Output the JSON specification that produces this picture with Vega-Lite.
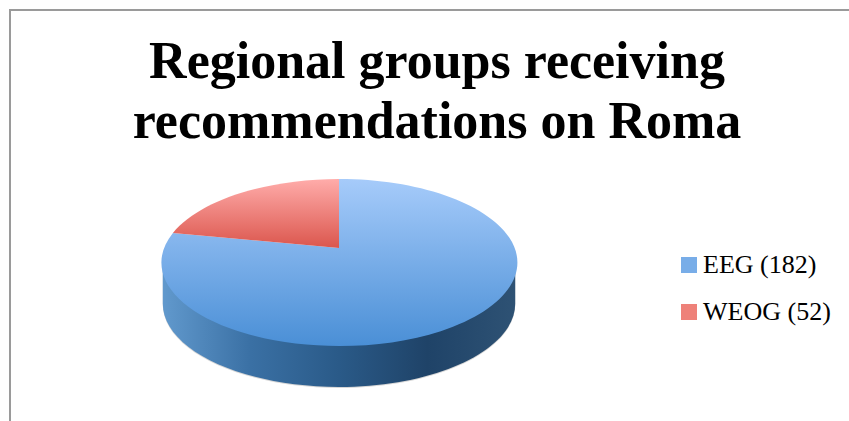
{
  "$schema": "https://vega.github.io/schema/vega-lite/v6.json",
  "width": 860,
  "height": 430,
  "autosize": "none",
  "padding": {"left": 10, "top": 10, "right": -21, "bottom": -19},
  "background": "white",
  "view": {"stroke": "#9a9a9a", "strokeWidth": 2, "fill": "white"},
  "title": {
    "text": ["Regional groups receiving", "recommendations on Roma"],
    "font": "Liberation Serif",
    "fontWeight": "bold",
    "fontSize": 52,
    "lineHeight": 60,
    "color": "#000000",
    "anchor": "middle",
    "frame": "group",
    "orient": "top",
    "baseline": "top",
    "dx": -3,
    "dy": 139,
    "offset": 0
  },
  "data": {"values": [
    {"group": "EEG (182)", "value": 182},
    {"group": "WEOG (52)", "value": 52}
  ]},
  "layer": [
    {
      "transform": [{"filter": "datum.value > 100"}],
      "mark": {"type": "point", "filled": true, "opacity": 0.35, "xOffset": -101, "yOffset": 38.5, "stroke": null},
      "encoding": {
        "shape": {"value": "M-0.99,0 L-0.99,0.23 A0.99,0.469 0 0 0 0.99,0.23 L0.99,0 Z"},
        "size": {"value": 126736},
        "fill": {"value": "#8a8a8a"}
      }
    },
    {
      "transform": [{"filter": "datum.value > 100"}],
      "mark": {"type": "point", "filled": true, "opacity": 1, "xOffset": -101, "yOffset": 37.5, "stroke": null},
      "encoding": {
        "shape": {"value": "M-0.99,0 L-0.99,0.23 A0.99,0.469 0 0 0 0.99,0.23 L0.99,0 Z"},
        "size": {"value": 126736},
        "fill": {"value": {"gradient": "linear", "x1": 0, "y1": 0, "x2": 1, "y2": 0, "stops": [
          {"offset": 0, "color": "#6199cd"},
          {"offset": 0.25, "color": "#3a70a4"},
          {"offset": 0.5, "color": "#2a5a88"},
          {"offset": 0.75, "color": "#1f4368"},
          {"offset": 1, "color": "#2e5274"}
        ]}}
      }
    },
    {
      "mark": {"type": "point", "filled": true, "opacity": 1, "xOffset": -101, "yOffset": 37.5, "stroke": null, "shape": "square"},
      "encoding": {
        "size": {"value": 100},
        "fill": {
          "field": "group", "type": "nominal",
          "scale": {"domain": ["EEG (182)", "WEOG (52)"], "range": ["#78ade8", "#ee8179"]},
          "legend": {
            "title": null,
            "orient": "none",
            "legendX": 666,
            "legendY": 242,
            "symbolType": "square",
            "symbolSize": 256,
            "symbolStrokeWidth": 0,
            "labelFont": "Liberation Serif",
            "labelFontSize": 26,
            "labelColor": "#000000",
            "labelLimit": 200,
            "labelOffset": 1,
            "rowPadding": 21,
            "encoding": {
              "symbols": {"update": {"fill": [
                {"test": "datum.value == 'EEG (182)'", "value": {"gradient": "linear", "x1": 0, "y1": 0, "x2": 0, "y2": 1, "stops": [{"offset": 0, "color": "#a6cbfa"}, {"offset": 1, "color": "#4a8fd6"}]}},
                {"value": {"gradient": "linear", "x1": 0, "y1": 0, "x2": 0, "y2": 1, "stops": [{"offset": 0, "color": "#ffacaa"}, {"offset": 1, "color": "#db564d"}]}}
              ]}}
            }
          }
        }
      }
    },
    {
      "transform": [{"filter": "datum.value > 100"}],
      "mark": {"type": "point", "filled": true, "opacity": 1, "xOffset": -101, "yOffset": 37.5, "stroke": null},
      "encoding": {
        "shape": {"value": "M0,-0.081 L0,-0.469 A1,0.469 0 1 1 -0.933,-0.166 Z"},
        "size": {"value": 126736},
        "fill": {"value": {"gradient": "linear", "x1": 0, "y1": 0, "x2": 0, "y2": 1, "stops": [{"offset": 0, "color": "#a6cbfa"}, {"offset": 1, "color": "#4a8fd6"}]}}
      }
    },
    {
      "transform": [{"filter": "datum.value < 100"}],
      "mark": {"type": "point", "filled": true, "opacity": 1, "xOffset": -101, "yOffset": 37.5, "stroke": null},
      "encoding": {
        "shape": {"value": "M0,-0.081 L-0.933,-0.166 A1,0.469 0 0 1 0,-0.469 Z"},
        "size": {"value": 126736},
        "fill": {"value": {"gradient": "linear", "x1": 0, "y1": 0, "x2": 0, "y2": 1, "stops": [{"offset": 0, "color": "#ffacaa"}, {"offset": 1, "color": "#db564d"}]}}
      }
    }
  ]
}
